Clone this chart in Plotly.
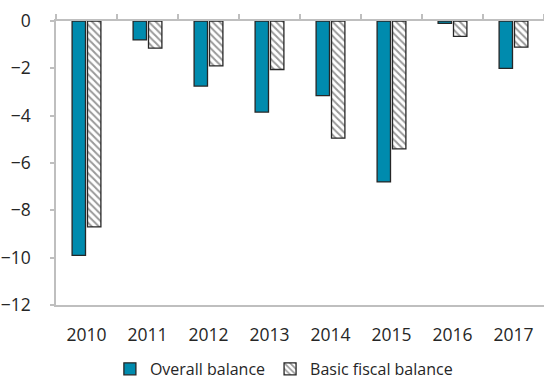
import plotly.graph_objects as go

years = ["2010", "2011", "2012", "2013", "2014", "2015", "2016", "2017"]
overall_balance = [-9.9, -0.8, -2.75, -3.85, -3.15, -6.8, -0.1, -2.0]
basic_fiscal_balance = [-8.7, -1.15, -1.9, -2.05, -4.95, -5.4, -0.65, -1.1]
y_ticks = [0, -2, -4, -6, -8, -10, -12]

TEAL = "#008BAE"
EDGE = "#262626"
AXIS = "#BFBFBF"
TEXT = "#262626"
FONT = "Open Sans"

fig = go.Figure()
fig.add_trace(go.Bar(
    x=years, y=overall_balance, name="Overall balance",
    marker=dict(color=TEAL, line=dict(color=EDGE, width=1.3)),
))
fig.add_trace(go.Bar(
    x=years, y=basic_fiscal_balance, name="Basic fiscal balance",
    marker=dict(color="white", line=dict(color=EDGE, width=1.3),
                pattern=dict(shape="\\", fgcolor="#333333", bgcolor="white",
                             size=5, solidity=0.4)),
))
# invisible helper trace for the zero-line category axis with boundary ticks
fig.add_trace(go.Scatter(
    x=years, y=[0] * len(years), xaxis="x2", mode="markers",
    marker=dict(opacity=0), showlegend=False, hoverinfo="skip",
))

fig.update_layout(
    width=544, height=386,
    margin=dict(l=56, r=0, t=21, b=79),
    paper_bgcolor="white", plot_bgcolor="white",
    font=dict(family=FONT, color=TEXT, size=16),
    barmode="group", bargap=0.495, bargroupgap=0.13,
    showlegend=True,
    legend=dict(orientation="h", x=0.467, xanchor="center", y=-0.225, yanchor="middle",
                font=dict(size=16, color=TEXT), itemwidth=30,
                traceorder="normal"),
    xaxis=dict(
        type="category", showline=True, linecolor=AXIS, linewidth=1.5,
        ticks="", showgrid=False, tickfont=dict(size=17.5),
        ticklabelstandoff=13, automargin=False,
    ),
    xaxis2=dict(
        type="category", overlaying="x", side="top", anchor="y",
        showline=True, linecolor=AXIS, linewidth=1.5,
        ticks="outside", tickson="boundaries", ticklen=5, tickcolor=AXIS, tickwidth=1.5,
        showticklabels=False, showgrid=False, matches="x", automargin=False,
    ),
    yaxis=dict(
        range=[-12, 0], tickvals=y_ticks, showline=True, linecolor=AXIS, linewidth=1.5,
        ticks="outside", ticklen=4, tickcolor=AXIS, tickwidth=1.5,
        showgrid=False, zeroline=False, tickfont=dict(size=17.5),
        ticklabelstandoff=16, automargin=False,
    ),
)

fig.write_html(
    "out.html",
    config={"displayModeBar": False},
    post_script="document.body.style.margin='0';document.body.style.overflow='hidden';",
)
